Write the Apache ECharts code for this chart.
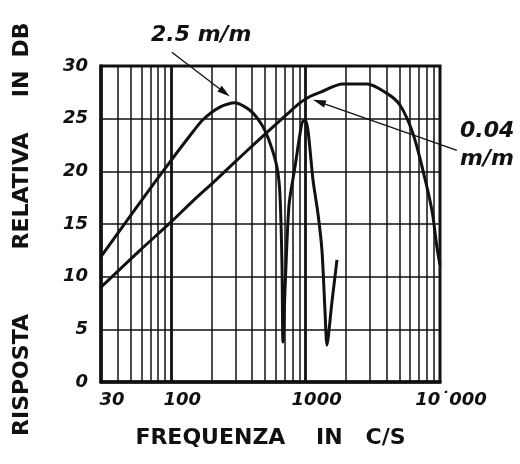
<!DOCTYPE html>
<html>
<head>
<meta charset="utf-8">
<script src="https://cdn.jsdelivr.net/npm/echarts@6/dist/echarts.min.js"></script>
<style>
  html, body { margin: 0; background: #fff; }
  #c { width: 520px; height: 464px; }
</style>
</head>
<body>
<div id="c"></div>
<script>
// curva 2.5 m/m (con i due zeri di fessura)
const freqA = [30, 43.7, 63.8, 97.9, 138, 172, 230, 298, 385, 473, 543, 612, 644, 667, 678, 702, 752, 833, 939, 989, 1041, 1134, 1235, 1323, 1393, 1441, 1570, 1711]
const dbA = [11.9, 14.8, 17.7, 20.9, 23.4, 24.9, 26.1, 26.5, 25.8, 24.4, 22.7, 20.4, 17.8, 11.1, 3.8, 8.7, 16.8, 20.4, 24.6, 24.9, 23.9, 19.2, 16.0, 12.5, 6.8, 3.5, 7.6, 11.6]

// curva 0.04 m/m
const freqB = [30, 58.5, 97.9, 142.6, 211.5, 341.7, 515.7, 739, 907, 1077, 1279, 1895, 2859, 4029, 5034, 6289, 7464, 8709, 9487, 10000]
const dbB = [9.0, 12.5, 15.1, 17.1, 19.1, 21.6, 23.7, 25.5, 26.5, 27.1, 27.5, 28.3, 28.3, 27.4, 26.3, 23.6, 20.1, 16.3, 12.8, 11.1]

// reticolo logaritmico
const minorFreqs = [40, 50, 60, 70, 80, 90, 200, 300, 400, 500, 600, 700, 800, 900, 2000, 3000, 4000, 5000, 6000, 7000, 8000, 9000]
const majorFreqs = [100, 1000]
const xLabels = { 30: '30', 100: '100', 1000: '1000', 10000: '10˙000' }

// titolo verticale, parola per parola (dal basso verso l'alto)
const yTitleWords = ['RISPOSTA', 'RELATIVA', 'IN', 'DB']
const yTitleCenters = [375, 191, 84, 40]

const ink = '#111'
const font = 'DejaVu Sans'

const gridLines = [
  ...minorFreqs.map(f => ({ xAxis: f, lineStyle: { width: 1.5 } })),
  ...majorFreqs.map(f => ({ xAxis: f, lineStyle: { width: 2.8 } })),
]

const option = {
  backgroundColor: '#fff',
  animation: false,
  grid: { left: 101, right: 80, top: 66, bottom: 82, show: true, borderColor: ink, borderWidth: 3 },
  xAxis: {
    type: 'log',
    logBase: 10,
    min: 30,
    max: 10000,
    name: 'FREQUENZA    IN   C/S',
    nameLocation: 'middle',
    nameGap: 45,
    nameTextStyle: { color: ink, fontFamily: font, fontWeight: 'bold', fontSize: 22 },
    axisLine: { lineStyle: { color: ink, width: 3.5 } },
    axisTick: { show: false },
    splitLine: { show: false },
    axisLabel: {
      color: ink, fontFamily: font, fontWeight: 'bold', fontStyle: 'italic', fontSize: 18,
      margin: 9, align: 'center', padding: [0, 0, 0, 22],
      formatter: v => xLabels[Math.round(v)] || '',
    },
  },
  yAxis: {
    type: 'value',
    min: 0,
    max: 30,
    interval: 5,
    axisLine: { show: true, lineStyle: { color: ink, width: 3.5 } },
    axisTick: { show: false },
    splitLine: { lineStyle: { color: ink, width: 1.5 } },
    axisLabel: { color: ink, fontFamily: font, fontWeight: 'bold', fontStyle: 'italic', fontSize: 18, margin: 13 },
  },
  series: [
    {
      type: 'line',
      name: '2.5 m/m',
      data: freqA.map((f, i) => [f, dbA[i]]),
      smooth: 0.25,
      showSymbol: false,
      lineStyle: { color: ink, width: 3 },
      z: 5,
    },
    {
      type: 'line',
      name: '0.04 m/m',
      data: freqB.map((f, i) => [f, dbB[i]]),
      smooth: 0.3,
      showSymbol: false,
      lineStyle: { color: ink, width: 3 },
      z: 5,
      markLine: {
        silent: true,
        symbol: 'none',
        label: { show: false },
        lineStyle: { color: ink, type: 'solid' },
        z: 1,
        data: gridLines,
      },
    },
  ],
}

const chart = echarts.init(document.getElementById('c'))
chart.setOption(option)

// frecce delle didascalie, in coordinate dei dati
function arrow(from, to) {
  const p0 = chart.convertToPixel({ gridIndex: 0 }, from)
  const p1 = chart.convertToPixel({ gridIndex: 0 }, to)
  const a = Math.atan2(p1[1] - p0[1], p1[0] - p0[0])
  const L = 13, W = 3.6
  const bx = p1[0] - L * Math.cos(a), by = p1[1] - L * Math.sin(a)
  return [
    { type: 'line', shape: { x1: p0[0], y1: p0[1], x2: bx, y2: by }, style: { stroke: ink, lineWidth: 1.3 }, z: 10 },
    {
      type: 'polygon',
      shape: { points: [p1, [bx - W * Math.sin(a), by + W * Math.cos(a)], [bx + W * Math.sin(a), by - W * Math.cos(a)]] },
      style: { fill: ink },
      z: 10,
    },
  ]
}

const labelStyle = { fill: ink, fontFamily: font, fontWeight: 'bold', fontStyle: 'italic', fontSize: 22 }
const titleStyle = { fill: ink, fontFamily: font, fontWeight: 'bold', fontSize: 22, align: 'center', verticalAlign: 'middle' }

chart.setOption({
  graphic: [
    ...arrow([101, 31.3], [273, 27.1]),
    ...arrow([13368, 22.0], [1134, 26.8]),
    { type: 'text', x: 151, y: 24, style: { text: '2.5 m/m', ...labelStyle }, z: 10 },
    { type: 'text', x: 460, y: 120, style: { text: '0.04', ...labelStyle }, z: 10 },
    { type: 'text', x: 460, y: 148, style: { text: 'm/m', ...labelStyle }, z: 10 },
    ...yTitleWords.map((w, i) => ({
      type: 'text', x: 22, y: yTitleCenters[i], rotation: Math.PI / 2,
      style: { text: w, ...titleStyle }, z: 10,
    })),
  ],
})
</script>
</body>
</html>
